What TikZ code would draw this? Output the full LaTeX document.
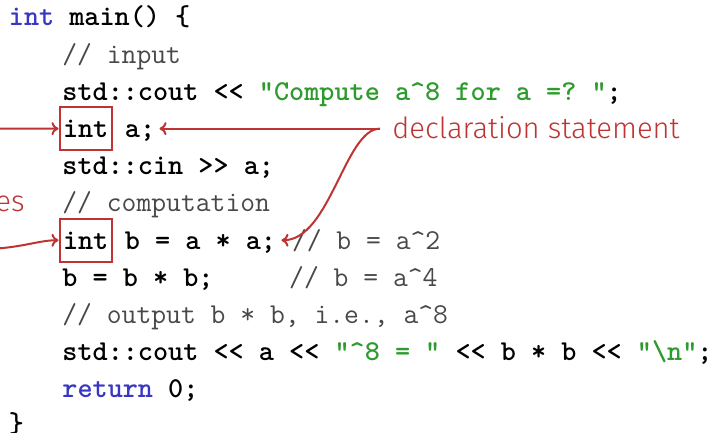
\documentclass[tikz,border=0pt]{standalone}
\usepackage{fontspec}
\usetikzlibrary{arrows.meta}
\newfontfamily\labfont{Fira Sans Light}
\definecolor{annred}{RGB}{190,52,52}
\definecolor{kwblue}{RGB}{55,55,195}
\definecolor{strgreen}{RGB}{45,155,45}
\definecolor{cmgray}{RGB}{72,72,72}
\newcommand\codesize{\fontsize{14.4}{18}\selectfont}
\newcommand\kwd[1]{\textcolor{kwblue}{#1}}
\newcommand\strg[1]{\textcolor{strgreen}{#1}}
\newcommand\cmt[1]{{\mdseries\color{cmgray}#1}}
\begin{document}
\begin{tikzpicture}[x=0.5pt,y=-0.5pt,
  code/.style={anchor=base west, inner sep=0pt, text height=13.4pt, text depth=4.45pt,
    font=\codesize\ttfamily\bfseries\frenchspacing},
  codebox/.style={code, draw=annred, line width=1pt, inner xsep=1.75pt, inner ysep=1.75pt},
  lab/.style={inner sep=0pt, text=annred, font=\labfont\fontsize{14.6}{17}\selectfont},
  arr/.style={draw=annred, line width=1pt, -{To[length=3.5pt,width=6.5pt]}}]
\useasboundingbox (0,0) rectangle (719,433);
\clip (0,0) rectangle (719,433);
% code lines
\node[code] (l1) at (8.5,26) {\kwd{int} main() \{};
\node[code] (l2) at (62,63.2) {\cmt{// input}};
\node[code] (l3) at (62,100.4) {std::cout <{}< \strg{"Compute a\textasciicircum8 for a =? "};};
\node[codebox] (int1) at (58.5,137.6) {int};
\node[code] (resta) at ([xshift=-1.75pt]int1.base east) {~a;};
\node[code] (l5) at (62,174.8) {std::cin >{}> a;};
\node[code] (l6) at (62,212) {\cmt{// computation}};
\node[codebox] (int2) at (58.5,249.2) {int};
\node[code] (restb) at ([xshift=-1.75pt]int2.base east) {~b = a * a;};
\node[code] (cmb) at (restb.base east) {~\cmt{// b = a\textasciicircum2}};
\node[code] (l8) at (62,286.4) {b = b * b;~~~~~\cmt{// b = a\textasciicircum4}};
\node[code] (l9) at (62,323.6) {\cmt{// output b * b, i.e., a\textasciicircum8}};
\node[code] (l10) at (62,360.8) {std::cout <{}< a <{}< \strg{"\textasciicircum8 = "} <{}< b * b <{}< \strg{"\textbackslash n"};};
\node[code] (l11) at (62,398) {\kwd{return} 0;};
\node[code] (l12) at (8.5,432) {\}};
% labels
\node[lab, anchor=base west] (decl) at (392,139) {declaration statement};
\node[lab, anchor=base east] (types) at (25,211.5) {es};
% connectors
\coordinate (dj) at (380,128.65);
\coordinate (in1) at (-3,128.5);
\coordinate (in2) at (-3,248.5);
\draw[arr] (dj) -- ([xshift=2pt]resta.east);
\draw[arr] (dj) .. controls (345,128.65) and (330,240.25) .. ([xshift=2.5pt]restb.east);
\draw[arr] (in1) -- (int1.west);
\draw[arr] (in2) .. controls (25,246.5) and (40,240.25) .. (int2.west);
\end{tikzpicture}
\end{document}
